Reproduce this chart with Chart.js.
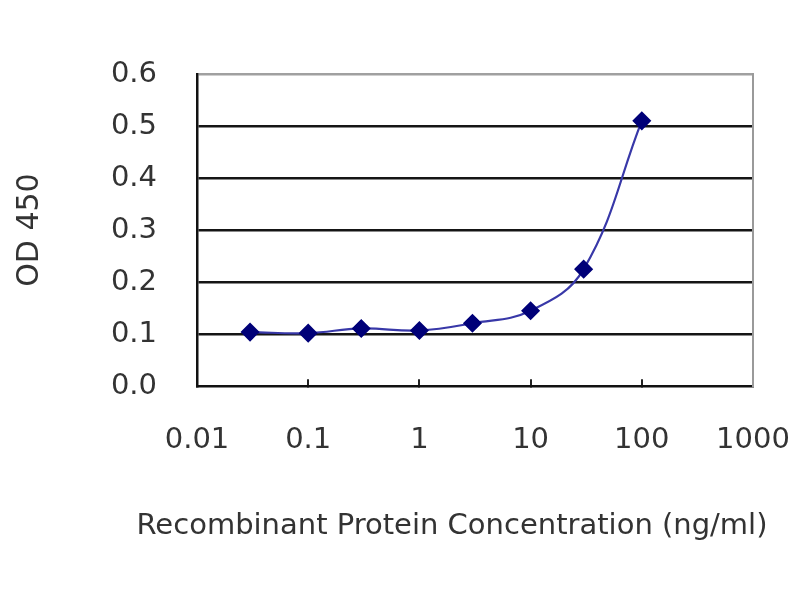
<!DOCTYPE html>
<html>
<head>
<meta charset="utf-8">
<script src="https://cdn.jsdelivr.net/npm/chart.js@4"></script>
<style>
html,body{margin:0;padding:0;background:#fff;}
#wrap{width:800px;height:600px;}
</style>
</head>
<body>
<div id="wrap"><canvas id="c" width="800" height="600"></canvas></div>
<script>
const concentrations = [0.03, 0.1, 0.3, 1, 3, 10, 30, 100];
const od450 = [0.104, 0.102, 0.111, 0.107, 0.121, 0.145, 0.225, 0.510];
const xTickValues = [0.01, 0.1, 1, 10, 100, 1000];
const xTickLabels = ['0.01', '0.1', '1', '10', '100', '1000'];
const yTickLabels = ['0.0', '0.1', '0.2', '0.3', '0.4', '0.5', '0.6'];
const xTitle = 'Recombinant Protein Concentration (ng/ml)';
const yTitle = 'OD 450';

const points = concentrations.map((c, i) => ({x: c, y: od450[i]}));
const FONT = 'DejaVu Sans';
const TEXT = '#333333';

new Chart(document.getElementById('c'), {
  type: 'line',
  data: {
    datasets: [{
      data: points,
      borderColor: '#3838a8',
      borderWidth: 2.2,
      tension: 0.4,
      pointStyle: 'rectRot',
      pointRadius: 8,
      pointBackgroundColor: '#000078',
      pointBorderColor: '#000078',
      fill: false
    }]
  },
  options: {
    responsive: false,
    animation: false,
    devicePixelRatio: 1,
    layout: {padding: {left: 104, right: 0, top: 74, bottom: 0}},
    plugins: {
      legend: {display: false},
      tooltip: {enabled: false},
      title: {
        display: true,
        position: 'bottom',
        text: xTitle,
        color: TEXT,
        font: {family: FONT, size: 29, weight: 'normal'},
        padding: {top: 0, bottom: 56}
      }
    },
    scales: {
      x: {
        type: 'logarithmic',
        min: 0.01,
        max: 1000,
        afterBuildTicks: s => { s.ticks = xTickValues.map(v => ({value: v})); },
        afterFit: s => { s.height = 123; s.paddingLeft = 0; s.paddingRight = 0; },
        ticks: {
          autoSkip: false,
          maxRotation: 0,
          padding: 44,
          color: TEXT,
          font: {family: FONT, size: 29},
          callback: (v, i) => xTickLabels[i]
        },
        grid: {
          drawOnChartArea: false,
          drawTicks: true,
          tickLength: -7,
          lineWidth: 2,
          color: ctx => (ctx.index === 0 || ctx.index === xTickValues.length - 1 ? 'rgba(0,0,0,0)' : '#222')
        },
        border: {display: true, color: '#111', width: 2.5}
      },
      y: {
        min: 0,
        max: 0.6,
        afterFit: s => { s.width = 93; },
        afterBuildTicks: s => { s.ticks = yTickLabels.map(t => ({value: parseFloat(t)})); },
        ticks: {
          padding: 40,
          color: TEXT,
          font: {family: FONT, size: 29},
          callback: (v, i) => yTickLabels[i]
        },
        grid: {
          drawTicks: false,
          lineWidth: 2.5,
          color: ctx => (ctx.index === yTickLabels.length - 1 ? '#a0a0a0' : (ctx.index === 0 ? 'rgba(0,0,0,0)' : '#151515'))
        },
        border: {display: true, color: '#111', width: 2.5},
        title: {
          display: true,
          text: yTitle,
          color: TEXT,
          font: {family: FONT, size: 30},
          padding: {top: -92, bottom: 0}
        }
      },
      y2: {
        position: 'right',
        min: 0,
        max: 0.6,
        afterFit: s => { s.width = 47; },
        ticks: {display: false},
        grid: {drawOnChartArea: false, drawTicks: false},
        border: {display: true, color: '#9a9a9a', width: 2}
      }
    }
  }
});
</script>
</body>
</html>
